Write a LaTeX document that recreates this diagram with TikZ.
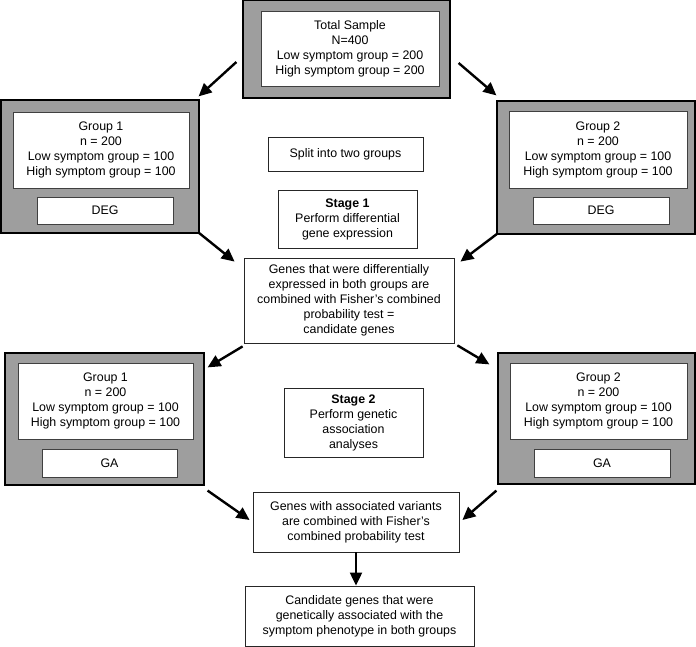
\documentclass[tikz,border=0pt]{standalone}
\usepackage{fontspec}
\setmainfont{Liberation Sans}
\usepackage{tikz}
\usetikzlibrary{arrows.meta}

\begin{document}
\begin{tikzpicture}[x=1pt,y=-1pt,>={Triangle[length=13pt,width=12pt]}]

% Stili per i riquadri e le frecce
\tikzset{
  outerbox/.style={draw=black, line width=1.2pt, fill=black!38, inner sep=0pt},
  innerbox/.style={draw=black!75, line width=0.7pt, fill=white, inner sep=0pt, align=center,
    font=\fontsize{12.4}{15}\selectfont},
  plainbox/.style={draw=black!85, line width=0.8pt, fill=white, inner sep=0pt, align=center,
    font=\fontsize{12.4}{15}\selectfont},
  arr/.style={->, line width=2.4pt}
}

\useasboundingbox (0,0) rectangle (696,647);

% --- Campione totale ---
\node[outerbox, minimum width=207pt, minimum height=98pt] (total) at (346.5,49) {};
\node[innerbox, minimum width=178pt, minimum height=75pt] (totalin) at (350,48.5)
  {Total Sample\\N=400\\Low symptom group = 200\\High symptom group = 200};

% --- Prima riga: gruppi con DEG ---
\node[outerbox, minimum width=198pt, minimum height=133pt] (grpA) at (100,166.5) {};
\node[innerbox, minimum width=176pt, minimum height=76pt] (grpAin) at (101,150)
  {Group 1\\n = 200\\Low symptom group = 100\\High symptom group = 100};
\node[innerbox, minimum width=136pt, minimum height=27pt] (degA) at (105,210.5) {DEG};

\node[outerbox, minimum width=198pt, minimum height=133pt] (grpB) at (596,167.5) {};
\node[innerbox, minimum width=178pt, minimum height=77pt] (grpBin) at (598,149.5)
  {Group 2\\n = 200\\Low symptom group = 100\\High symptom group = 100};
\node[innerbox, minimum width=136pt, minimum height=27pt] (degB) at (601,210.5) {DEG};

% Riquadri centrali
\node[plainbox, minimum width=155pt, minimum height=34pt] (split) at (345.5,154) {Split into two groups};
\node[plainbox, minimum width=139pt, minimum height=58pt] (stageone) at (347.5,219)
  {\textbf{Stage 1}\\Perform differential\\gene expression};
\node[plainbox, minimum width=210pt, minimum height=85pt] (combone) at (349,300.5)
  {Genes that were differentially\\expressed in both groups are\\combined with Fisher's combined\\probability test =\\candidate genes};

% --- Seconda riga: gruppi con GA ---
\node[outerbox, minimum width=199pt, minimum height=132pt] (grpC) at (104.5,419) {};
\node[innerbox, minimum width=175pt, minimum height=76pt] (grpCin) at (105.5,401)
  {Group 1\\n = 200\\Low symptom group = 100\\High symptom group = 100};
\node[innerbox, minimum width=135pt, minimum height=28pt] (gaC) at (109.5,463) {GA};

\node[outerbox, minimum width=197pt, minimum height=131pt] (grpD) at (596.5,418.5) {};
\node[innerbox, minimum width=177pt, minimum height=76pt] (grpDin) at (598.5,401)
  {Group 2\\n = 200\\Low symptom group = 100\\High symptom group = 100};
\node[innerbox, minimum width=136pt, minimum height=28pt] (gaD) at (602,463) {GA};

\node[plainbox, minimum width=139pt, minimum height=69pt] (stagetwo) at (353.5,422.5)
  {\textbf{Stage 2}\\Perform genetic\\association\\analyses};
\node[plainbox, minimum width=206pt, minimum height=60pt] (combtwo) at (356,522)
  {Genes with associated variants\\are combined with Fisher's\\combined probability test};
\node[plainbox, minimum width=229pt, minimum height=60pt] (final) at (359.5,616)
  {Candidate genes that were\\genetically associated with the\\symptom phenotype in both groups};

% Frecce
\draw[arr] ([shift={(-6,13)}]total.west) -- ([shift={(-1,-3)}]grpA.north east);
\draw[arr] ([shift={(8,14)}]total.east) -- ([shift={(0,-5)}]grpB.north west);
\draw[arr] ([shift={(-1,-1)}]grpA.south east) -- ([shift={(-9,4)}]combone.north west);
\draw[arr] ([shift={(1,-1)}]grpB.south west) -- ([shift={(6,4)}]combone.north east);
\draw[arr] ([shift={(-1,3)}]combone.south west) -- ([shift={(3,15)}]grpC.north east);
\draw[arr] ([shift={(3,2)}]combone.south east) -- ([shift={(-8,12)}]grpD.north west);
\draw[arr] ([shift={(3,5)}]grpC.south east) -- ([shift={(-3,-2)}]combtwo.west);
\draw[arr] ([shift={(-1,6)}]grpD.south west) -- ([shift={(3,-2)}]combtwo.east);
\draw[->, line width=2pt] (combtwo.south) -- (combtwo.south |- final.north);

\end{tikzpicture}
\end{document}
